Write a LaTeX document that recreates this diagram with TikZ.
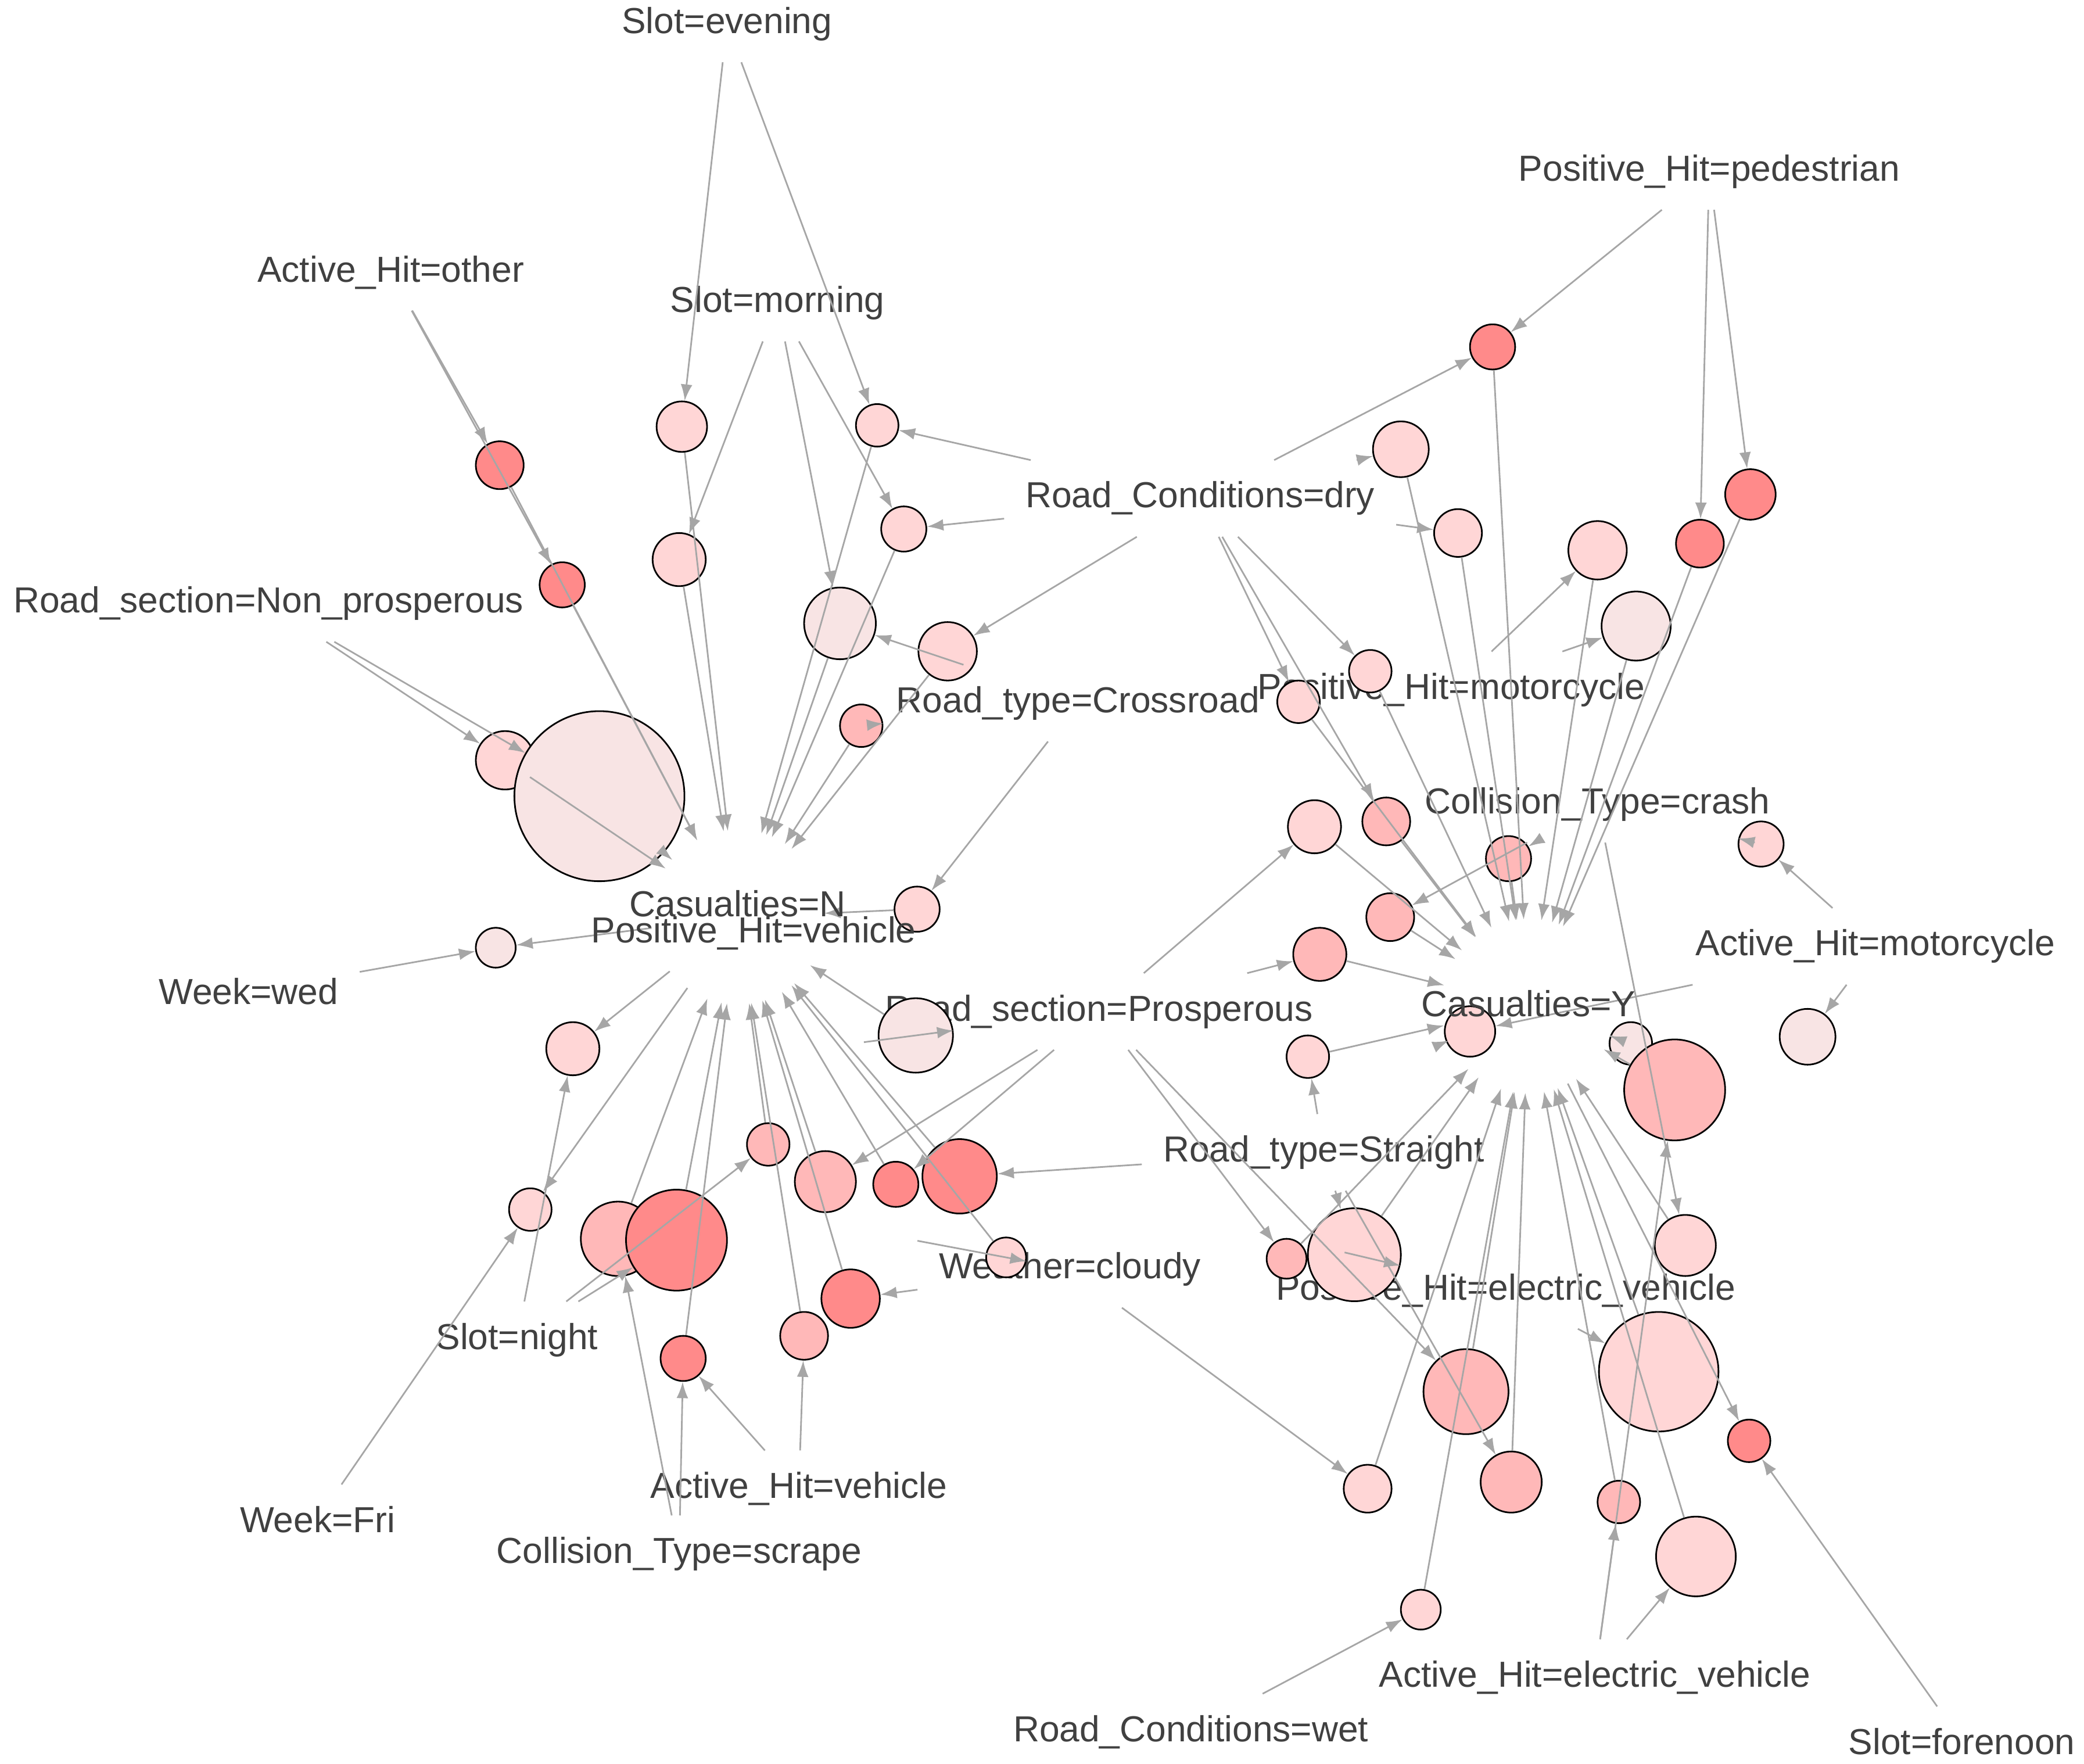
\documentclass[tikz,border=0pt]{standalone}
\usepackage{fontspec}
\setmainfont{Liberation Sans}
\usetikzlibrary{arrows.meta}
\definecolor{cS}{HTML}{FF8A8A}
\definecolor{cM}{HTML}{FFB8B8}
\definecolor{cL}{HTML}{FFD6D6}
\definecolor{cV}{HTML}{F8E4E4}
\begin{document}
\begin{tikzpicture}[x=0.02cm,y=-0.02cm,
 lab/.style={text=black!75,font=\fontsize{15.5}{18}\selectfont,inner sep=9pt},
 hub/.style={circle,minimum size=2.6cm,inner sep=0pt},
 ed/.style={draw=black!35,line width=0.7pt,-{Latex[length=7pt,width=5pt]}},
 r/.style={circle,draw=black,line width=0.7pt,inner sep=0pt}]
\useasboundingbox (0,0) rectangle (1568,1327);
% hubs
\node[hub] (hN) at (555,690) {};
\node[hub] (hY) at (1150,757) {};
% labels
\node[lab] (sev) at (547,18) {Slot=evening};
\node[lab] (aho) at (294,205) {Active\_Hit=other};
\node[lab] (smo) at (585,228) {Slot=morning};
\node[lab] (php) at (1286,129) {Positive\_Hit=pedestrian};
\node[lab] (rcd) at (903,375) {Road\_Conditions=dry};
\node[lab] (rsn) at (202,454) {Road\_section=Non\_prosperous};
\node[lab] (rtc) at (811,529) {Road\_type=Crossroad};
\node[lab] (phm) at (1092,519) {Positive\_Hit=motorcycle};
\node[lab] (ctc) at (1202,605) {Collision\_Type=crash};
\node[lab] (ahm) at (1411,712) {Active\_Hit=motorcycle};
\node[lab] (wwe) at (187,746) {Week=wed};
\node[lab] (rsp) at (827,761) {Road\_section=Prosperous};
\node[lab] (rts) at (996,867) {Road\_type=Straight};
\node[lab] (wcl) at (805,955) {Weather=cloudy};
\node[lab] (phe) at (1133,971) {Positive\_Hit=electric\_vehicle};
\node[lab] (sni) at (389,1008) {Slot=night};
\node[lab] (wfr) at (239,1143) {Week=Fri};
\node[lab] (ahv) at (601,1120) {Active\_Hit=vehicle};
\node[lab] (cts) at (511,1169) {Collision\_Type=scrape};
\node[lab] (ahe) at (1200,1262) {Active\_Hit=electric\_vehicle};
\node[lab] (rcw) at (896,1303) {Road\_Conditions=wet};
\node[lab] (sfo) at (1476,1310) {Slot=forenoon};
% rules
\foreach \n/\x/\y/\rr/\c in {
1/376/350/18/cS,2/423/440/17/cS,3/513/321/19/cL,4/511/421/20/cL,5/660/320/16/cL,
6/680/398/17/cL,7/632/469/27/cV,8/713/490/22/cL,9/648/546/16/cM,10/380/572/22/cL,
11/451/599/64/cV,12/690/684/17/cL,13/373/713/15/cV,14/689/779/28/cV,15/431/789/20/cL,
16/399/910/16/cL,17/465/932/28/cM,18/509/933/38/cS,19/578/861/16/cM,20/621/889/23/cM,
21/674/891/17/cS,22/722/885/28/cS,23/757/946/15/cL,24/640/977/22/cS,25/605/1005/18/cM,
26/514/1022/17/cS,27/1123/261/17/cS,28/1054/338/21/cL,29/1097/401/18/cL,30/1202/414/22/cL,
31/1231/471/26/cV,32/1279/409/18/cS,33/1317/372/19/cS,34/1031/505/16/cL,35/977/528/16/cL,
36/989/622/20/cL,37/1043/618/18/cM,38/1135/646/17/cM,39/1046/690/18/cM,40/993/718/20/cM,
41/1325/635/17/cL,42/1106/776/19/cL,43/1227/785/16/cV,44/1260/820/38/cM,45/1360/780/21/cV,
46/984/795/16/cL,47/1268/937/23/cL,48/1019/944/35/cL,49/968/947/15/cM,50/1103/1047/32/cM,
51/1248/1032/45/cL,52/1316/1084/16/cS,53/1029/1120/18/cL,54/1137/1115/23/cM,55/1218/1130/16/cM,
56/1276/1171/30/cL,57/1069/1211/15/cL}
 \node[r,fill=\c,minimum size=\rr*0.04cm] (n\n) at (\x,\y) {};
% edges
\foreach \a/\b in {aho/n1,aho/n2,n1/hN,n2/hN,sev/n3,n3/hN,smo/n4,n4/hN,sev/n5,rcd/n5,n5/hN,
 smo/n6,rcd/n6,n6/hN,smo/n7,rtc/n7,n7/hN,rcd/n8,n8/hN,n9/hN,rtc/n9,rsn/n10,n10/hN,rsn/n11,n11/hN,
 rtc/n12,n12/hN,wwe/n13,hN/n13,rsp/n14,n14/hN,sni/n15,hN/n15,wfr/n16,hN/n16,cts/n17,n17/hN,
 sni/n18,n18/hN,sni/n19,n19/hN,rsp/n20,n20/hN,rsp/n21,n21/hN,rts/n22,n22/hN,wcl/n23,n23/hN,
 wcl/n24,n24/hN,ahv/n25,n25/hN,cts/n26,ahv/n26,n26/hN,
 php/n27,rcd/n27,n27/hY,rcd/n28,n28/hY,rcd/n29,n29/hY,phm/n30,n30/hY,phm/n31,n31/hY,
 php/n32,n32/hY,php/n33,n33/hY,rcd/n34,n34/hY,rcd/n35,n35/hY,rsp/n36,n36/hY,rcd/n37,n37/hY,
 ctc/n38,n38/hY,ctc/n39,n39/hY,rsp/n40,n40/hY,ctc/n41,ahm/n41,ahm/n42,n42/hY,hY/n43,
 ahe/n44,n44/hY,ahm/n45,rts/n46,n46/hY,ctc/n47,n47/hY,rts/n48,n48/hY,phe/n48,rsp/n49,n49/hY,
 rsp/n50,n50/hY,phe/n51,n51/hY,sfo/n52,hY/n52,wcl/n53,n53/hY,rts/n54,n54/hY,ahe/n55,n55/hY,
 ahe/n56,n56/hY,rcw/n57,n57/hY}
 \draw[ed] (\a) -- (\b);
\node[text=black!75,font=\fontsize{15.5}{18}\selectfont] at (555,680) {Casualties=N};
\node[text=black!75,font=\fontsize{15.5}{18}\selectfont] at (567,702) {Positive\_Hit=vehicle};
\node[text=black!75,font=\fontsize{15.5}{18}\selectfont] at (1150,755) {Casualties=Y};
\end{tikzpicture}
\end{document}
